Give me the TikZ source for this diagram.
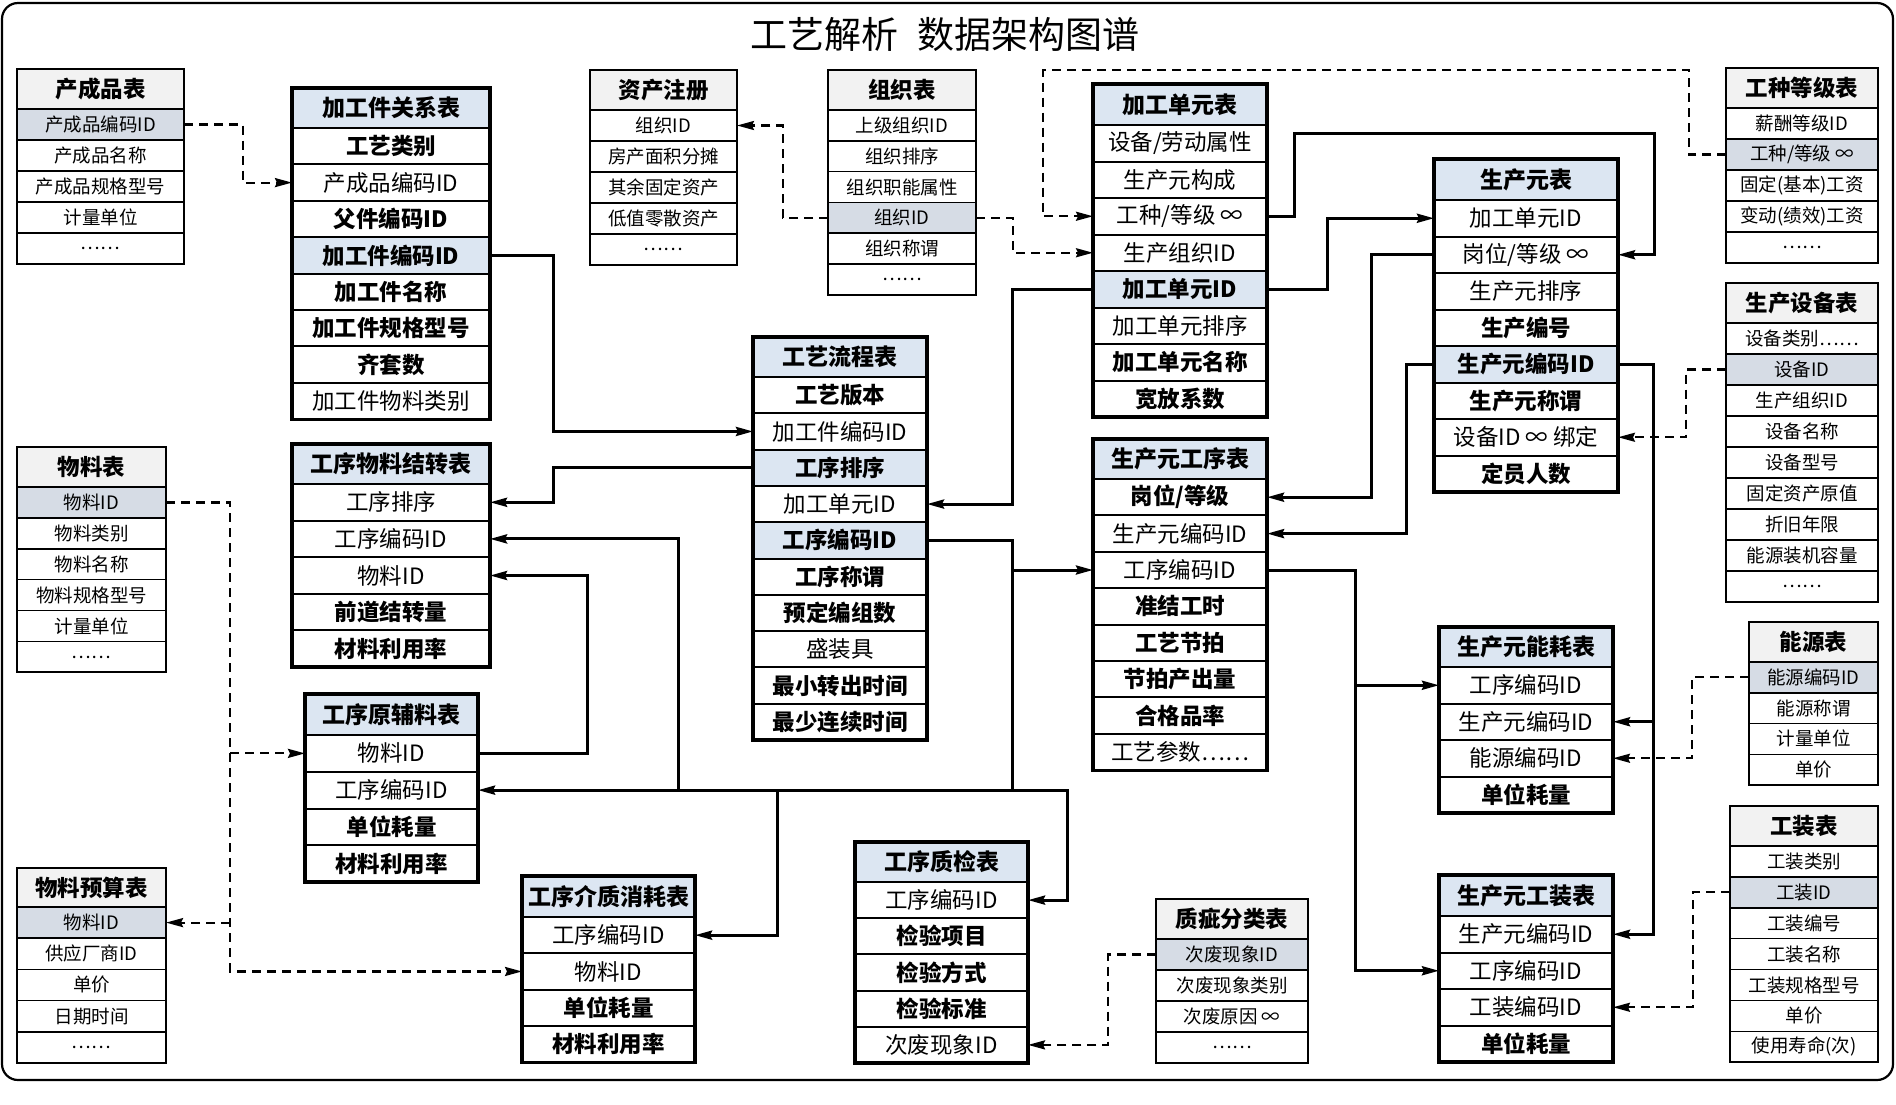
\documentclass[tikz,border=0pt]{standalone}
\usepackage{fontspec}
\setmainfont{Noto Sans CJK SC}
\usetikzlibrary{arrows.meta}
\definecolor{mhd}{HTML}{DCE6F2}
\definecolor{rhd}{HTML}{F2F2F2}
\definecolor{rky}{HTML}{D6DCE5}
\tikzset{
 cell/.style={draw, inner sep=0pt, outer sep=0pt, anchor=north west, text=black},
 mhead/.style={cell, line width=2pt, fill=mhd, font=\fontsize{23}{26}\selectfont\bfseries},
 mn/.style={cell, line width=2pt, fill=white, font=\fontsize{22.5}{26}\selectfont},
 mb/.style={cell, line width=2pt, fill=white, font=\fontsize{22.5}{26}\selectfont\bfseries},
 mk/.style={cell, line width=2pt, fill=mhd, font=\fontsize{22.5}{26}\selectfont\bfseries},
 mframe/.style={draw, line width=3.2pt},
 rhead/.style={cell, line width=1.5pt, fill=rhd, font=\fontsize{22.5}{26}\selectfont\bfseries},
 rn/.style={cell, line width=1.5pt, fill=white, font=\fontsize{18.5}{22}\selectfont},
 rk/.style={cell, line width=1.5pt, fill=rky, font=\fontsize{18.5}{22}\selectfont},
 rframe/.style={draw, line width=1.9pt},
 sol/.style={line width=3pt, -{Stealth[length=17pt,width=9pt,inset=2pt]}},
 dsh/.style={line width=2.2pt, dash pattern=on 9pt off 6pt, -{Stealth[length=17pt,width=9pt,inset=2pt]}},
}
\newcommand\dbtable[9]{%
  \pgfmathsetmacro\tw{#4-#3}%
  \node[#1head, minimum width=\tw pt, minimum height=#6pt] (#2-0) at (#3,#5) {#8};
  \foreach[count=\i] \s/\t in {#9}{%
    \node[\s, minimum width=\tw pt, minimum height=#7pt] (#2-\i) at ({#3},{#5+#6+(\i-1)*#7}) {\t};
    \xdef\lastrow{\i}%
  }%
  \draw[#1frame] (#2-0.north west) rectangle (#2-\lastrow.south east);
}
\begin{document}
\begin{tikzpicture}[x=1pt,y=-1pt]
\useasboundingbox (0,0) rectangle (1896,1104);
\fill[white] (0,0) rectangle (1896,1104);
\draw[line width=2.2pt, rounded corners=16pt] (2,3) rectangle (1893,1080);
\node (title) at (945,34) {\fontsize{37}{40}\selectfont 工艺解析\hspace{20pt}数据架构图谱};

\dbtable{r}{ccp}{17}{184}{69}{40}{31}{产成品表}{rk/产成品编码ID, rn/产成品名称, rn/产成品规格型号, rn/计量单位, rn/……}
\dbtable{m}{jgj}{292}{490}{88}{40}{36.4}{加工件关系表}{mb/工艺类别, mn/产成品编码ID, mb/父件编码ID, mk/加工件编码ID, mb/加工件名称, mb/加工件规格型号, mb/齐套数, mn/加工件物料类别}
\dbtable{m}{wljz}{292}{490}{444}{40}{36.6}{工序物料结转表}{mn/工序排序, mn/工序编码ID, mn/物料ID, mb/前道结转量, mb/材料利用率}
\dbtable{m}{yfl}{305}{478}{694}{41}{36.75}{工序原辅料表}{mn/物料ID, mn/工序编码ID, mb/单位耗量, mb/材料利用率}
\dbtable{m}{jzxh}{522}{695}{876}{41}{36.3}{工序介质消耗表}{mn/工序编码ID, mn/物料ID, mb/单位耗量, mb/材料利用率}
\dbtable{r}{wl}{17}{166}{447}{40}{30.9}{物料表}{rk/物料ID, rn/物料类别, rn/物料名称, rn/物料规格型号, rn/计量单位, rn/……}
\dbtable{r}{wlys}{17}{166}{868}{39}{31.2}{物料预算表}{rk/物料ID, rn/供应厂商ID, rn/单价, rn/日期时间, rn/……}
\dbtable{r}{zc}{590}{737}{70}{40}{31}{资产注册}{rn/组织ID, rn/房产面积分摊, rn/其余固定资产, rn/低值零散资产, rn/……}
\dbtable{r}{zz}{828}{976}{70}{40}{30.8}{组织表}{rn/上级组织ID, rn/组织排序, rn/组织职能属性, rk/组织ID, rn/组织称谓, rn/……}
\dbtable{m}{gylc}{753}{927}{337}{40}{36.3}{工艺流程表}{mb/工艺版本, mn/加工件编码ID, mk/工序排序, mn/加工单元ID, mk/工序编码ID, mb/工序称谓, mb/预定编组数, mn/盛装具, mb/最小转出时间, mb/最少连续时间}
\dbtable{m}{zj}{855}{1028}{842}{40}{36.2}{工序质检表}{mn/工序编码ID, mb/检验项目, mb/检验方式, mb/检验标准, mn/次废现象ID}
\dbtable{m}{jgdy}{1093}{1267}{84}{41}{36.5}{加工单元表}{mn/{设备/劳动属性}, mn/生产元构成, mn/{工种/等级 ∞}, mn/生产组织ID, mk/加工单元ID, mn/加工单元排序, mb/加工单元名称, mb/宽放系数}
\dbtable{m}{scgx}{1093}{1267}{439}{40}{36.4}{生产元工序表}{mb/{岗位/等级}, mn/生产元编码ID, mn/工序编码ID, mb/准结工时, mb/工艺节拍, mb/节拍产出量, mb/合格品率, mn/工艺参数……}
\dbtable{m}{scy}{1434}{1618}{159}{41}{36.5}{生产元表}{mn/加工单元ID, mn/{岗位/等级 ∞}, mn/生产元排序, mb/生产编号, mk/生产元编码ID, mb/生产元称谓, mn/设备ID ∞ 绑定, mb/定员人数}
\dbtable{m}{nh}{1439}{1613}{627}{40}{36.5}{生产元能耗表}{mn/工序编码ID, mn/生产元编码ID, mn/能源编码ID, mb/单位耗量}
\dbtable{m}{gz}{1439}{1613}{875}{41}{36.5}{生产元工装表}{mn/生产元编码ID, mn/工序编码ID, mn/工装编码ID, mb/单位耗量}
\dbtable{r}{gzdj}{1726}{1878}{68}{40}{31}{工种等级表}{rn/薪酬等级ID, rk/{工种/等级 ∞}, rn/固定(基本)工资, rn/变动(绩效)工资, rn/……}
\dbtable{r}{sb}{1726}{1878}{283}{40}{31}{生产设备表}{rn/设备类别……, rk/设备ID, rn/生产组织ID, rn/设备名称, rn/设备型号, rn/固定资产原值, rn/折旧年限, rn/能源装机容量, rn/……}
\dbtable{r}{ny}{1749}{1878}{622}{40}{30.75}{能源表}{rk/能源编码ID, rn/能源称谓, rn/计量单位, rn/单价}
\dbtable{r}{gzb}{1730}{1878}{806}{40}{30.9}{工装表}{rn/工装类别, rk/工装ID, rn/工装编号, rn/工装名称, rn/工装规格型号, rn/单价, rn/使用寿命(次)}
\dbtable{r}{zc2}{1156}{1308}{899}{40}{31}{质疵分类表}{rk/次废现象ID, rn/次废现象类别, rn/次废原因 ∞, rn/……}

% routing coordinates
\foreach \v in {230,243,553,587,678,777,783,1012,1013,1043,1067,1108,1294,1327,1355,1371,1406,1653,1654,1686,1689,1692,1693}{\coordinate (v\v) at (\v,0);}
\coordinate (h70) at (0,70);
\coordinate (h133) at (0,133);

% solid connectors
\draw[sol] (jgj-4.east) -| (v553 |- gylc-2.west) -- (gylc-2.west);
\draw[sol] (gylc-3.west) -| (v553 |- wljz-1.east) -- (wljz-1.east);
\draw[sol] (yfl-1.east) -| (v587 |- wljz-3.east) -- (wljz-3.east);
\draw[sol] (gylc-5.east) -| (v1012 |- scgx-3.west) -- (scgx-3.west);
\draw[sol] (gylc-5.east) -| (v1012 |- yfl-2.east) -- (yfl-2.east);
\draw[sol] (v1012 |- yfl-2.east) -| (v1067 |- zj-1.east) -- (zj-1.east);
\draw[sol] (v777 |- yfl-2.east) |- (jzxh-1.east);
\draw[sol] (v678 |- yfl-2.east) |- (wljz-2.east);
\draw[sol] (jgdy-5.west) -| (v1012 |- gylc-4.east) -- (gylc-4.east);
\draw[sol] (jgdy-5.east) -| (v1327 |- scy-1.west) -- (scy-1.west);
\draw[sol] (jgdy-3.east) -| (v1294 |- h133) -| (v1654 |- scy-2.east) -- (scy-2.east);
\draw[sol] (scy-2.west) -| (v1371 |- scgx-1.east) -- (scgx-1.east);
\draw[sol] (scy-5.west) -| (v1406 |- scgx-2.east) -- (scgx-2.east);
\draw[sol] (scy-5.east) -| (v1653 |- gz-1.east) -- (gz-1.east);
\draw[sol] (v1653 |- nh-2.east) -- (nh-2.east);
\draw[sol] (scgx-3.east) -| (v1355 |- gz-2.west) -- (gz-2.west);
\draw[sol] (v1355 |- nh-1.west) -- (nh-1.west);

% dashed connectors
\draw[dsh] (ccp-1.east) -| (v243 |- jgj-2.west) -- (jgj-2.west);
\draw[dsh] (zz-4.west) -| (v783 |- zc-1.east) -- (zc-1.east);
\draw[dsh] (zz-4.east) -| (v1013 |- jgdy-4.west) -- (jgdy-4.west);
\draw[dsh] (gzdj-2.west) -| (v1689 |- h70) -| (v1043 |- jgdy-3.west) -- (jgdy-3.west);
\draw[dsh] (sb-2.west) -| (v1686 |- scy-7.east) -- (scy-7.east);
\draw[dsh] (ny-1.west) -| (v1692 |- nh-3.east) -- (nh-3.east);
\draw[dsh] (gzb-2.west) -| (v1693 |- gz-3.east) -- (gz-3.east);
\draw[dsh] (zc2-1.west) -| (v1108 |- zj-5.east) -- (zj-5.east);
\draw[dsh] (wl-1.east) -| (v230 |- jzxh-2.west) -- (jzxh-2.west);
\draw[dsh] (v230 |- yfl-1.west) -- (yfl-1.west);
\draw[dsh] (v230 |- wlys-1.east) -- (wlys-1.east);
\end{tikzpicture}
\end{document}
